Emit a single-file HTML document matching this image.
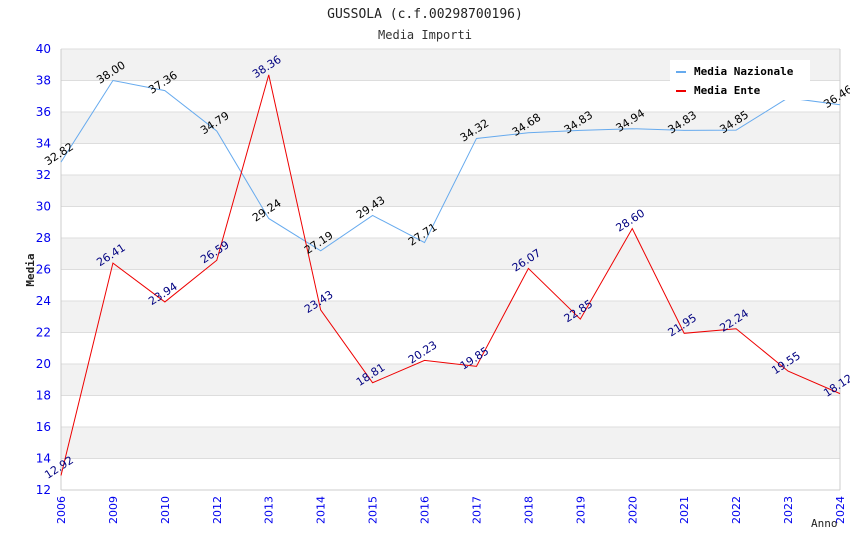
<!DOCTYPE html>
<html><head><meta charset="utf-8"><style>
body{margin:0;background:#fff;}
svg{display:block;font-family:"DejaVu Sans Mono","Liberation Mono",monospace;}
.s{font-family:"DejaVu Sans","Liberation Sans",sans-serif;}
</style></head><body>
<svg id="chart" width="850" height="550">
<text x="425" y="18" text-anchor="middle" font-size="13" fill="#222">GUSSOLA (c.f.00298700196)</text>
<text x="425" y="39" text-anchor="middle" font-size="12" fill="#333">Media Importi</text>
<g id="bands"></g><g id="grid"></g><g id="axes" class="s"></g><g id="lines"></g><g id="labels" class="s"></g>
<text transform="translate(34,270) rotate(-90)" text-anchor="middle" font-size="11" font-weight="bold" fill="#222">Media</text>
<text x="811" y="527" font-size="11" fill="#222">Anno</text>
<g>
<rect x="670" y="60" width="140" height="40" fill="#fff"/>
<line x1="676" y1="72" x2="686" y2="72" stroke="#66aaee" stroke-width="2"/>
<text x="694" y="75" font-size="11" font-weight="bold" fill="#000">Media Nazionale</text>
<line x1="676" y1="91" x2="686" y2="91" stroke="#ee0000" stroke-width="2"/>
<text x="694" y="94" font-size="11" font-weight="bold" fill="#000">Media Ente</text>
</g>
</svg>
<script>
const categories=["2006","2009","2010","2012","2013","2014","2015","2016","2017","2018","2019","2020","2021","2022","2023","2024"];
const nazionale=[32.82,38.00,37.36,34.79,29.24,27.19,29.43,27.71,34.32,34.68,34.83,34.94,34.83,34.85,36.9,36.46];
const ente=[12.92,26.41,23.94,26.59,38.36,23.43,18.81,20.23,19.85,26.07,22.85,28.60,21.95,22.24,19.55,18.12];
const yTicks=[12,14,16,18,20,22,24,26,28,30,32,34,36,38,40];
const NS="http://www.w3.org/2000/svg";
const L=61,R=840,T=49,B=490,yMin=12,yMax=40;
const x=i=>L+i*(R-L)/(categories.length-1);
const y=v=>B-(v-yMin)/(yMax-yMin)*(B-T);
function mk(tag,attrs,parent,txt){const e=document.createElementNS(NS,tag);for(const k in attrs)e.setAttribute(k,attrs[k]);if(txt!==undefined)e.textContent=txt;document.getElementById(parent).appendChild(e);return e;}
for(let i=0;i<yTicks.length-1;i++){
  if(i%2===1){const r=mk('rect',{x:L,y:y(yTicks[i+1]),width:R-L,height:y(yTicks[i])-y(yTicks[i+1]),fill:'#f2f2f2'},'bands');
  
  }
}
yTicks.forEach(t=>{
  const g=mk('line',{x1:L,x2:R,y1:y(t),y2:y(t),stroke:'#ddd'},'grid');
  
  
  const lb=mk('text',{x:L-10,y:y(t)+4,'text-anchor':'end','font-size':12,fill:'#0000ee'},'axes',t);
  
  
});
mk('line',{x1:L,x2:L,y1:T,y2:B,stroke:'#ccc'},'axes');
mk('line',{x1:L,x2:R,y1:B,y2:B,stroke:'#ccc'},'axes');
mk('line',{x1:R,x2:R,y1:T,y2:B,stroke:'#ccc'},'axes');
categories.forEach((c,i)=>{
  const t=mk('text',{transform:`translate(${x(i)+4},${B+6}) rotate(-90)`,'text-anchor':'end','font-size':11,fill:'#0000ee'},'axes',c);
  
  
});
function series(vals,color,name,lc){
  const p=mk('polyline',{points:vals.map((v,i)=>x(i)+','+y(v)).join(' '),fill:'none',stroke:color,'stroke-width':1},'lines');
  
  
  vals.forEach((v,i)=>{
    if(name==='nazionale'&&i===14)return;
    const t=mk('text',{transform:`translate(${x(i)},${y(v)-5}) rotate(-33)`,'text-anchor':'middle','font-size':11,fill:lc},'labels',v.toFixed(2));
    
    
  });
}
series(nazionale,'#66aaee','nazionale','#000');
series(ente,'#ee0000','ente','#000080');
</script>
</body></html>
